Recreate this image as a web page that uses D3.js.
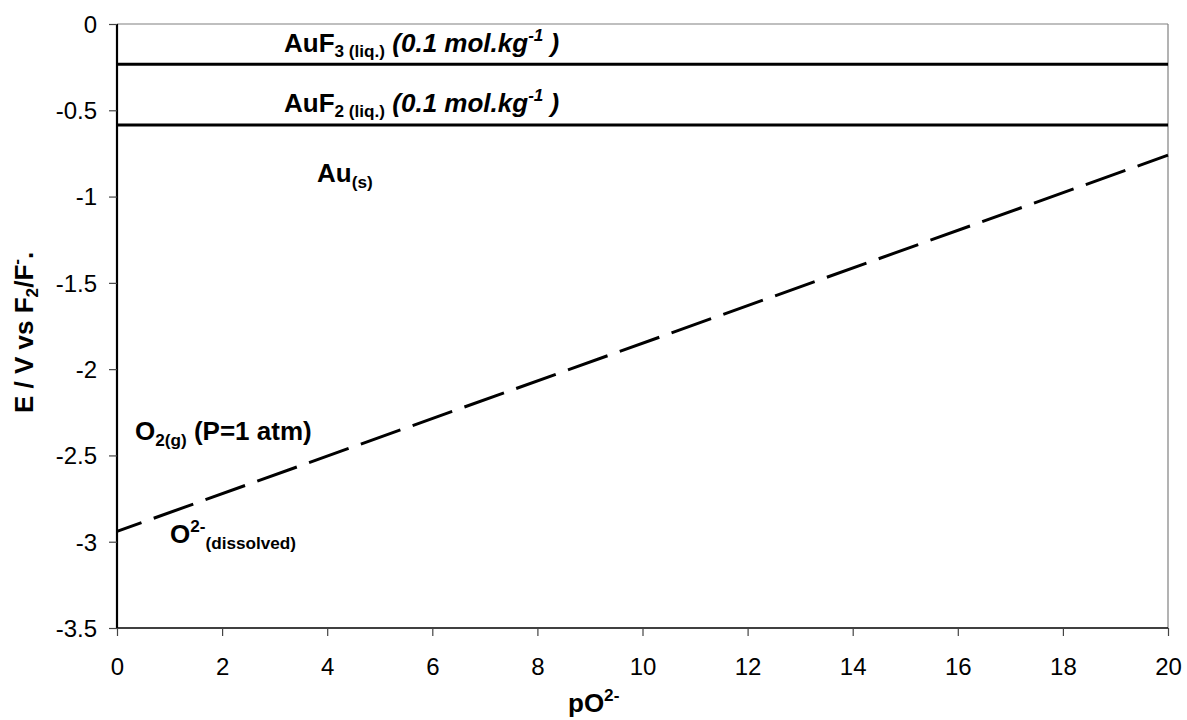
<!DOCTYPE html>
<html><head><meta charset="utf-8">
<script src="https://cdn.jsdelivr.net/npm/d3@7/dist/d3.min.js"></script>
<style>
html,body{margin:0;padding:0;background:#fff;}
text{font-family:"Liberation Sans",Arial,Helvetica,sans-serif;}
</style></head>
<body><svg id="chart" width="1187" height="720"></svg>
<script>
// ---- data ----
const xTicks = [0,2,4,6,8,10,12,14,16,18,20];
const yTicks = [0,-0.5,-1,-1.5,-2,-2.5,-3,-3.5];
const pO = [0, 20];
const E_AuF3 = [-0.233, -0.233];
const E_AuF2 = [-0.585, -0.585];
const E_O2 = [-2.94, -0.76];

const W = 1187, H = 720;
const m = {left:117, right:19, top:24, bottom:92};
const svg = d3.select("#chart");
const x = d3.scaleLinear().domain([0,20]).range([m.left, W-m.right]);
const y = d3.scaleLinear().domain([-3.5,0]).range([H-m.bottom, m.top]);

// plot area border (top & right)
svg.append("line").attr("x1",x(0)).attr("x2",x(20)).attr("y1",y(0)).attr("y2",y(0))
  .attr("stroke","#808080").attr("stroke-width",1.2);
svg.append("line").attr("x1",x(20)).attr("x2",x(20)).attr("y1",y(0)).attr("y2",y(-3.5))
  .attr("stroke","#808080").attr("stroke-width",1.2);

// axes
const xAxis = d3.axisBottom(x).tickValues(xTicks).tickSize(8).tickFormat(d=>String(d));
const yAxis = d3.axisLeft(y).tickValues(yTicks).tickSize(8).tickFormat(d=>String(d));
const gx = svg.append("g").attr("transform",`translate(0,${y(-3.5)})`).call(xAxis);
const gy = svg.append("g").attr("transform",`translate(${x(0)},0)`).call(yAxis);
[gx,gy].forEach(g=>{
  g.selectAll("text").attr("font-size",24).attr("fill","#000")
    .style("font-family",'"Liberation Sans",Arial,sans-serif');
  g.selectAll(".tick line").attr("stroke","#444").attr("stroke-width",1.2);
});
gx.select(".domain").attr("d",`M${x(0)},0H${x(20)}`).attr("stroke","#000").attr("stroke-width",1.5);
gy.select(".domain").attr("d",`M0,${y(0)}V${y(-3.5)}`).attr("stroke","#000").attr("stroke-width",2.2);
gx.selectAll("text").attr("dy","1.5em");
gy.selectAll("text").attr("x",-20).attr("dy","0.35em");

// series lines
const line = d3.line().x(d=>x(d[0])).y(d=>y(d[1]));
const mk = arr => pO.map((p,i)=>[p,arr[i]]);
svg.append("path").datum(mk(E_AuF3)).attr("d",line).attr("fill","none").attr("stroke","#000").attr("stroke-width",3);
svg.append("path").datum(mk(E_AuF2)).attr("d",line).attr("fill","none").attr("stroke","#000").attr("stroke-width",3);
svg.append("path").datum(mk(E_O2)).attr("d",line).attr("fill","none").attr("stroke","#000")
  .attr("stroke-width",3).attr("stroke-dasharray","42,13").attr("stroke-dashoffset",16);

// rich label helper
function rich(px, py, segs, size, rotate){
  const t = svg.append("text").attr("font-weight","bold").attr("font-size",size);
  if(rotate) t.attr("transform",`translate(${px},${py}) rotate(-90)`);
  else t.attr("x",px).attr("y",py);
  let shift = 0;
  segs.forEach(s=>{
    const sp = t.append("tspan").text(s.t);
    let target = 0;
    if(s.k==="sub"||s.k==="isub"){ sp.attr("font-size",size*0.66); target = s.dy!=null?s.dy:5; }
    else if(s.k==="sup"||s.k==="isup"){ sp.attr("font-size",size*0.66); target = s.dy!=null?s.dy:-11; }
    if(s.k && s.k[0]==="i") sp.attr("font-style","italic");
    sp.attr("dy", target-shift); shift = target;
  });
  return t;
}
const S = 26;
rich(284, 52, [{t:"AuF"},{t:"3 (liq.)",k:"sub"},{t:" "},{t:"(0.1 mol.kg",k:"i"},{t:"-1",k:"isup"},{t:" )",k:"i"}], S);
rich(284, 112, [{t:"AuF"},{t:"2 (liq.)",k:"sub"},{t:" "},{t:"(0.1 mol.kg",k:"i"},{t:"-1",k:"isup"},{t:" )",k:"i"}], S);
rich(317, 182, [{t:"Au"},{t:"(s)",k:"sub",dy:6}], S);
rich(135, 440, [{t:"O"},{t:"2(g)",k:"sub",dy:6},{t:" (P=1 atm)"}], S);
rich(170, 543, [{t:"O"},{t:"2-",k:"sup",dy:-11},{t:"(dissolved)",k:"sub",dy:6}], S);
rich(568, 712, [{t:"pO"},{t:"2-",k:"sup",dy:-11}], S);
// y axis title
rich(33, 413, [{t:"E  / V vs F"},{t:"2",k:"sub",dy:5},{t:"/F"},{t:"-",k:"sup",dy:-11},{t:"."}], S, true);
</script></body></html>
